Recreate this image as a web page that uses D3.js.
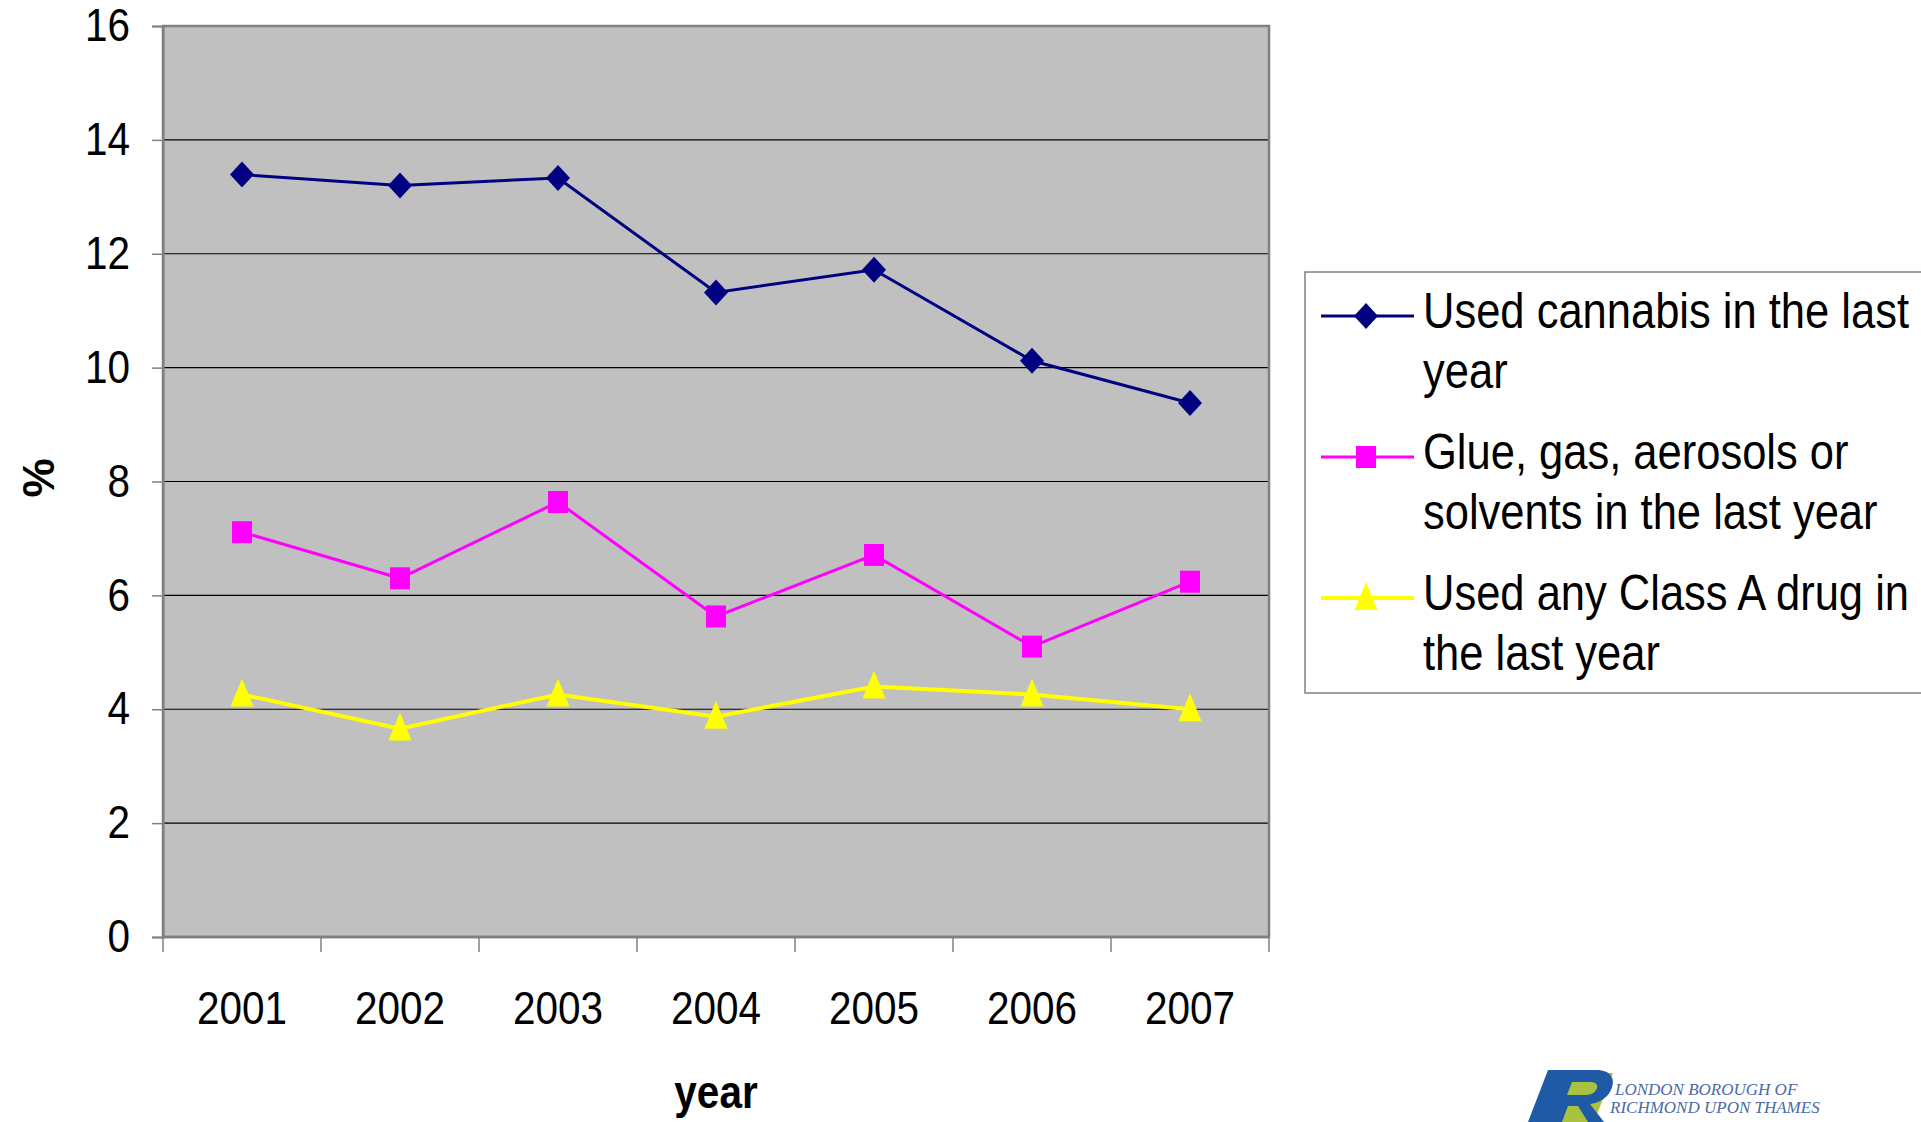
<!DOCTYPE html>
<html>
<head>
<meta charset="utf-8">
<script src="https://cdn.jsdelivr.net/npm/d3@7"></script>
<style>
  body { margin: 0; background: #fff; }
  text { font-family: "Liberation Sans", Arial, sans-serif; fill: #000; }
</style>
</head>
<body>
<svg id="chart" width="1921" height="1122"></svg>
<script>
// data
const years = ["2001", "2002", "2003", "2004", "2005", "2006", "2007"];
const cannabis = [13.39, 13.2, 13.33, 11.32, 11.72, 10.12, 9.38];
const glue = [7.11, 6.3, 7.64, 5.63, 6.71, 5.1, 6.24];
const classA = [4.26, 3.66, 4.26, 3.87, 4.4, 4.26, 4.0];
const yTicks = [0, 2, 4, 6, 8, 10, 12, 14, 16];
const seriesNames = [
  ["Used cannabis in the last", "year"],
  ["Glue, gas, aerosols or", "solvents in the last year"],
  ["Used any Class A drug in", "the last year"]
];

const series = [
  {values: cannabis, color: "#000080", width: 3, shape: "diamond"},
  {values: glue, color: "#ff00ff", width: 3, shape: "square"},
  {values: classA, color: "#ffff00", width: 4, shape: "triangle"}
];

const squeeze = 0.88;   // text in the picture is horizontally narrow
const plotL = 163, plotR = 1269, plotT = 26, plotB = 937;

const svg = d3.select("#chart");

const x = d3.scaleBand().domain(years).range([plotL, plotR]);
const y = d3.scaleLinear().domain([0, 16]).range([plotB, plotT]);

// plot area
svg.append("rect")
  .attr("x", plotL).attr("y", plotT)
  .attr("width", plotR - plotL).attr("height", plotB - plotT)
  .attr("fill", "#c0c0c0");

svg.selectAll(".grid")
  .data(yTicks.filter(d => d > 0 && d < 16))
  .enter().append("line")
  .attr("x1", plotL).attr("x2", plotR)
  .attr("y1", d => y(d)).attr("y2", d => y(d))
  .attr("stroke", "#000").attr("stroke-width", 1.2);

svg.append("rect")
  .attr("x", plotL).attr("y", plotT)
  .attr("width", plotR - plotL).attr("height", plotB - plotT)
  .attr("fill", "none")
  .attr("stroke", "#808080").attr("stroke-width", 2.5);

// y axis
const yAxis = svg.append("g")
  .attr("transform", `translate(${plotL},0)`)
  .call(d3.axisLeft(y).tickValues(yTicks).tickSize(11).tickPadding(22));
yAxis.select(".domain").attr("stroke", "#808080").attr("stroke-width", 2);
yAxis.selectAll(".tick line").attr("stroke", "#808080").attr("stroke-width", 1.5);
yAxis.selectAll("text")
  .attr("font-size", 46)
  .attr("x", -33 / squeeze)
  .attr("transform", `scale(${squeeze},1)`);

// x axis: labels in band centres, ticks on band edges
const xAxis = svg.append("g")
  .attr("transform", `translate(0,${plotB})`)
  .call(d3.axisBottom(x).tickSize(0).tickPadding(54));
xAxis.select(".domain").remove();
xAxis.selectAll("text")
  .attr("font-size", 46)
  .attr("transform", `scale(${squeeze},1)`);

const edges = years.map(d => x(d)).concat([x.range()[1]]);
svg.selectAll(".xtick")
  .data(edges)
  .enter().append("line")
  .attr("x1", d => d).attr("x2", d => d)
  .attr("y1", plotB).attr("y2", plotB + 15)
  .attr("stroke", "#808080").attr("stroke-width", 1.5);
svg.append("line")
  .attr("x1", plotL).attr("x2", plotR)
  .attr("y1", plotB).attr("y2", plotB)
  .attr("stroke", "#808080").attr("stroke-width", 2.5);

// axis titles
svg.append("text")
  .attr("transform", `translate(716,1108) scale(${squeeze},1)`)
  .attr("text-anchor", "middle")
  .attr("font-size", 46).attr("font-weight", "bold")
  .text("year");
svg.append("text")
  .attr("transform", "translate(54,478) rotate(-90)")
  .attr("text-anchor", "middle")
  .attr("font-size", 44).attr("font-weight", "bold")
  .text("%");

// markers
function marker(shape) {
  if (shape === "diamond") return "M0,-13L12,0L0,13L-12,0Z";
  if (shape === "square") return "M-10,-11H10V11H-10Z";
  return "M0,-16L11.5,12H-11.5Z";
}

const line = d3.line()
  .x((d, i) => x(years[i]) + x.bandwidth() / 2)
  .y(d => y(d));

series.forEach(s => {
  svg.append("path")
    .datum(s.values)
    .attr("d", line)
    .attr("fill", "none")
    .attr("stroke", s.color)
    .attr("stroke-width", s.width);
  svg.selectAll(null)
    .data(s.values)
    .enter().append("path")
    .attr("d", marker(s.shape))
    .attr("transform", (d, i) => `translate(${x(years[i]) + x.bandwidth() / 2},${y(d)})`)
    .attr("fill", s.color);
});

// legend
const legend = svg.append("g");
legend.append("rect")
  .attr("x", 1305).attr("y", 272)
  .attr("width", 700).attr("height", 421)
  .attr("fill", "#fff")
  .attr("stroke", "#808080").attr("stroke-width", 1.5);

const legendY = [316, 457, 598];
series.forEach((s, i) => {
  legend.append("line")
    .attr("x1", 1321).attr("x2", 1414)
    .attr("y1", legendY[i]).attr("y2", legendY[i])
    .attr("stroke", s.color).attr("stroke-width", s.width);
  legend.append("path")
    .attr("d", marker(s.shape))
    .attr("transform", `translate(1366,${legendY[i]})`)
    .attr("fill", s.color);
  seriesNames[i].forEach((t, j) => {
    legend.append("text")
      .attr("transform", `translate(1423,${legendY[i] + 12 + j * 60}) scale(0.87,1)`)
      .attr("font-size", 50)
      .text(t);
  });
});

// council logo, bottom right
const logo = svg.append("g").attr("transform", "translate(1528,1068)");
logo.append("path")
  .attr("d", "M38,5H85L66,54H19Z")
  .attr("fill", "#a9c23f");
logo.append("path")
  .attr("d", "M20,2H68C84,2 88,12 83,22C79,31 70,35 62,36L76,54H60L50,38H40L34,54H0ZM44,14L39,27H58C65,27 68,23 69,20C70,16 67,14 62,14Z")
  .attr("fill", "#1f5aa6");
logo.append("text")
  .attr("x", 87).attr("y", 27)
  .style("font-family", "'Liberation Serif', 'Times New Roman', serif")
  .style("font-style", "italic")
  .style("font-size", "17px")
  .style("fill", "#4b6aa6")
  .text("LONDON BOROUGH OF");
logo.append("text")
  .attr("x", 82).attr("y", 45)
  .style("font-family", "'Liberation Serif', 'Times New Roman', serif")
  .style("font-style", "italic")
  .style("font-size", "17px")
  .style("fill", "#4b6aa6")
  .text("RICHMOND UPON THAMES");
</script>
</body>
</html>
